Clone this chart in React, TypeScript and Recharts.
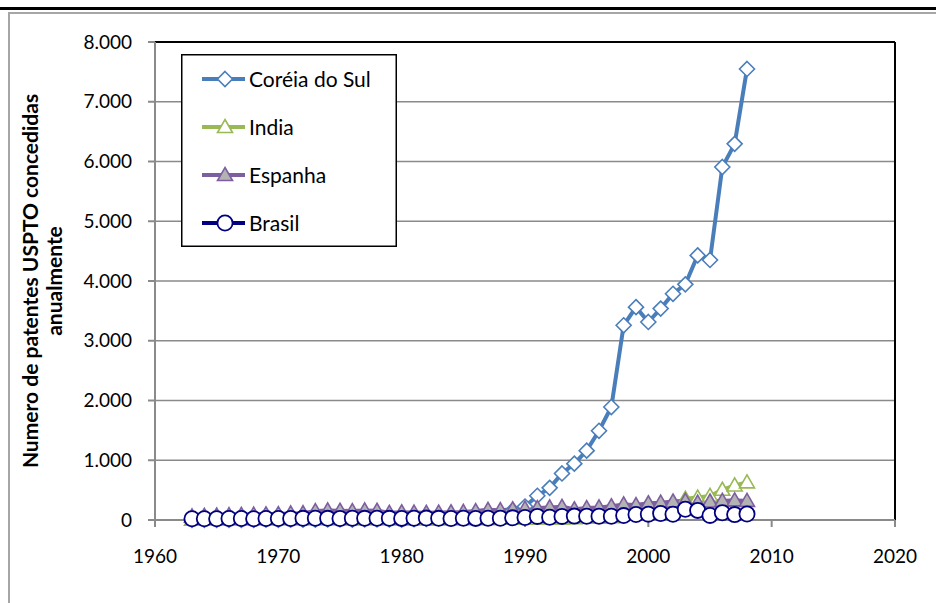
import React from 'react';
import { LineChart, Line, XAxis, YAxis, CartesianGrid, ReferenceLine, Legend } from 'recharts';

const years = [
  1963, 1964, 1965, 1966, 1967, 1968, 1969, 1970, 1971, 1972,
  1973, 1974, 1975, 1976, 1977, 1978, 1979, 1980, 1981, 1982,
  1983, 1984, 1985, 1986, 1987, 1988, 1989, 1990, 1991, 1992,
  1993, 1994, 1995, 1996, 1997, 1998, 1999, 2000, 2001, 2002,
  2003, 2004, 2005, 2006, 2007, 2008,
];
const coreia = [
  2, 3, 2, 3, 4, 3, 5, 4, 6, 5,
  8, 10, 12, 8, 10, 12, 10, 8, 15, 18,
  26, 30, 41, 46, 84, 97, 159, 225, 405, 538,
  779, 943, 1161, 1493, 1891, 3259, 3562, 3314, 3538, 3786,
  3944, 4428, 4352, 5908, 6295, 7549,
];
const india = [
  5, 8, 6, 10, 9, 12, 10, 14, 12, 15,
  13, 14, 12, 10, 14, 12, 15, 10, 12, 8,
  10, 14, 12, 18, 15, 20, 25, 22, 25, 30,
  28, 32, 38, 40, 48, 94, 114, 131, 180, 267,
  356, 376, 403, 506, 578, 630,
];
const espanha = [
  60, 70, 75, 80, 85, 90, 95, 100, 110, 115,
  150, 160, 155, 150, 160, 155, 120, 130, 125, 120,
  125, 130, 135, 150, 170, 165, 180, 190, 200, 210,
  220, 180, 200, 210, 230, 260, 250, 280, 290, 310,
  320, 290, 310, 320, 330, 320,
];
const brasil = [
  20, 22, 20, 25, 24, 22, 25, 26, 24, 28,
  30, 28, 26, 30, 28, 30, 28, 27, 30, 32,
  28, 25, 30, 27, 30, 29, 36, 41, 60, 45,
  60, 65, 63, 63, 62, 74, 91, 98, 110, 96,
  180, 161, 77, 121, 90, 101,
];
const xTicks = [1960, 1970, 1980, 1990, 2000, 2010, 2020];
const yTicks = [0, 1000, 2000, 3000, 4000, 5000, 6000, 7000, 8000];
const seriesNames = ['Coréia do Sul', 'India', 'Espanha', 'Brasil'];
const yTitleLines = ['Numero de patentes USPTO concedidas', 'anualmente'];

const data = years.map((year, i) => ({
  year,
  coreia: coreia[i],
  india: india[i],
  espanha: espanha[i],
  brasil: brasil[i],
}));

const FONT = 'Lato, "Open Sans", "DejaVu Sans", sans-serif';
const C_KOR = '#4a7ebb';
const C_IND = '#98b954';
const C_ESP = '#7d5fa0';
const C_BRA = '#000080';
const GRAY = '#8a8a8a';

const fmt = (v: number) => {
  if (v >= 1000) return `${Math.floor(v / 1000)}.${String(v % 1000).padStart(3, '0')}`;
  return String(v);
};

type Kind = 'diamond' | 'triWhite' | 'triGray' | 'circle';

const Marker = ({ kind, cx, cy, color }: { kind: Kind; cx: number; cy: number; color: string }) => {
  if (kind === 'diamond') {
    const s = 7.5;
    return (
      <path
        d={`M${cx},${cy - s}L${cx + s},${cy}L${cx},${cy + s}L${cx - s},${cy}Z`}
        fill="#fff"
        stroke={color}
        strokeWidth={1.6}
      />
    );
  }
  if (kind === 'triWhite' || kind === 'triGray') {
    return (
      <path
        d={`M${cx},${cy - 7.5}L${cx + 7.5},${cy + 5.5}L${cx - 7.5},${cy + 5.5}Z`}
        fill={kind === 'triWhite' ? '#fff' : '#b3b3b3'}
        stroke={color}
        strokeWidth={1.6}
      />
    );
  }
  return <circle cx={cx} cy={cy} r={7.6} fill="#fff" stroke={color} strokeWidth={1.8} />;
};

const makeDot = (kind: Kind, color: string) => (props: any) => {
  const { cx, cy, index } = props;
  if (cx == null || cy == null) return <g key={`e-${kind}-${index}`} />;
  return (
    <g key={`${kind}-${index}`}>
      <Marker kind={kind} cx={cx} cy={cy} color={color} />
    </g>
  );
};

const legendItems: { name: string; color: string; kind: Kind }[] = [
  { name: seriesNames[0], color: C_KOR, kind: 'diamond' },
  { name: seriesNames[1], color: C_IND, kind: 'triWhite' },
  { name: seriesNames[2], color: C_ESP, kind: 'triGray' },
  { name: seriesNames[3], color: C_BRA, kind: 'circle' },
];

const LegendBox = () => (
  <svg width={216} height={193} style={{ display: 'block' }}>
    <rect x={0.75} y={0.75} width={214.5} height={191.5} fill="#fff" stroke="#000" strokeWidth={1.5} />
    {legendItems.map((it, i) => {
      const cy = 25 + i * 48;
      return (
        <g key={it.name}>
          <line x1={21} x2={64} y1={cy} y2={cy} stroke={it.color} strokeWidth={4} />
          <Marker kind={it.kind} cx={44} cy={cy} color={it.color} />
          <text x={68} y={cy} dy="0.36em" fontFamily={FONT} fontSize={21} fill="#000">
            {it.name}
          </text>
        </g>
      );
    })}
  </svg>
);

const YTitle = (props: any) => {
  const vb = props.viewBox || {};
  const cyMid = (vb.y ?? 42) + (vb.height ?? 478) / 2;
  return (
    <g>
      {yTitleLines.map((t, i) => {
        const x = 38 + i * 24;
        return (
          <text
            key={t}
            x={x}
            y={cyMid}
            transform={`rotate(-90, ${x}, ${cyMid})`}
            textAnchor="middle"
            fontFamily={FONT}
            fontWeight="bold"
            fontSize={21}
            fill="#000"
          >
            {t}
          </text>
        );
      })}
    </g>
  );
};

export default function App() {
  return (
    <div
      style={{
        position: 'absolute',
        left: 0,
        top: 0,
        width: 936,
        height: 603,
        overflow: 'hidden',
        background: '#fff',
      }}
    >
      <div style={{ position: 'absolute', left: 0, top: 7, width: 936, height: 3, background: '#000' }} />
      <div
        style={{
          position: 'absolute',
          left: 8,
          top: 12,
          width: 940,
          height: 600,
          borderLeft: '2px solid #a6a6a6',
          borderTop: '2px solid #a6a6a6',
        }}
      />
      <div style={{ position: 'absolute', left: 0, top: 0 }}>
        <LineChart
          width={936}
          height={603}
          data={data}
          margin={{ top: 42, right: 41, bottom: 0, left: 0 }}
        >
          <CartesianGrid horizontal vertical={false} stroke={GRAY} strokeWidth={1.5} />
          <XAxis
            dataKey="year"
            type="number"
            domain={[1960, 2020]}
            ticks={xTicks}
            allowDataOverflow
            height={83}
            tickSize={7}
            tickMargin={23}
            stroke={GRAY}
            strokeWidth={2}
            tick={{ fill: '#000', fontFamily: FONT, fontSize: 19 }}
            tickLine={{ stroke: GRAY, strokeWidth: 2 }}
          />
          <YAxis
            type="number"
            domain={[0, 8000]}
            ticks={yTicks}
            width={155}
            tickSize={7}
            tickMargin={16}
            tickFormatter={fmt}
            stroke={GRAY}
            strokeWidth={2}
            tick={{ fill: '#000', fontFamily: FONT, fontSize: 19 }}
            tickLine={{ stroke: GRAY, strokeWidth: 2 }}
            label={(p: any) => <YTitle {...p} />}
          />
          <ReferenceLine y={8000} stroke="#000" strokeWidth={2} ifOverflow="extendDomain" />
          <ReferenceLine x={2020} stroke="#000" strokeWidth={2} ifOverflow="extendDomain" />
          <Legend
            layout="vertical"
            align="center"
            verticalAlign="middle"
            content={() => <LegendBox />}
            wrapperStyle={{ position: 'absolute', left: 181, top: 54, width: 216, height: 193 }}
          />
          <Line
            name={seriesNames[0]}
            dataKey="coreia"
            stroke={C_KOR}
            strokeWidth={4}
            dot={makeDot('diamond', C_KOR)}
            activeDot={false}
            isAnimationActive={false}
          />
          <Line
            name={seriesNames[1]}
            dataKey="india"
            stroke={C_IND}
            strokeWidth={4}
            dot={makeDot('triWhite', C_IND)}
            activeDot={false}
            isAnimationActive={false}
          />
          <Line
            name={seriesNames[2]}
            dataKey="espanha"
            stroke={C_ESP}
            strokeWidth={4}
            dot={makeDot('triGray', C_ESP)}
            activeDot={false}
            isAnimationActive={false}
          />
          <Line
            name={seriesNames[3]}
            dataKey="brasil"
            stroke={C_BRA}
            strokeWidth={3}
            dot={makeDot('circle', C_BRA)}
            activeDot={false}
            isAnimationActive={false}
          />
        </LineChart>
      </div>
    </div>
  );
}
